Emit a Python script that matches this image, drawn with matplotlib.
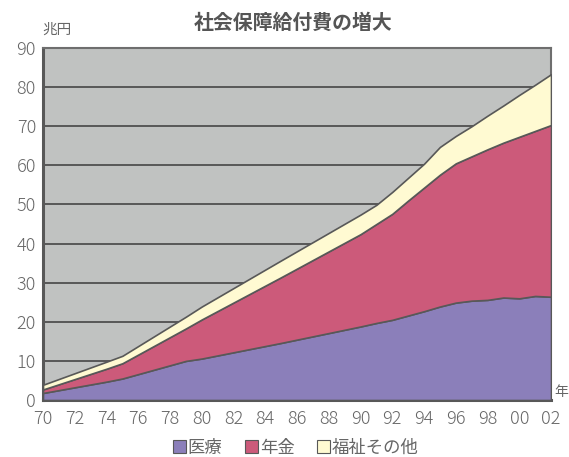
import matplotlib.pyplot as plt
from matplotlib.patches import Rectangle

plt.rcParams['font.family'] = ['Noto Sans CJK JP', 'DejaVu Sans']

years = [1970, 1974, 1975, 1979, 1980, 1985, 1990, 1991, 1992, 1993,
         1994, 1995, 1996, 1997, 1998, 1999, 2000, 2001, 2002]
medical = [1.8, 4.7, 5.5, 10.0, 10.6, 14.6, 18.8, 19.7, 20.5, 21.6,
           22.7, 23.9, 24.9, 25.4, 25.6, 26.2, 26.0, 26.6, 26.4]
pension = [0.9, 3.3, 3.9, 8.3, 10.0, 16.8, 23.6, 25.3, 27.1, 29.4,
           31.6, 33.7, 35.6, 36.9, 38.5, 39.6, 41.3, 42.2, 43.9]
welfare = [1.2, 1.8, 1.9, 3.0, 3.3, 4.3, 5.0, 4.9, 5.6, 5.8,
           6.1, 7.1, 7.0, 7.7, 8.6, 9.5, 10.7, 11.8, 13.0]

series_labels = ["医療", "年金", "福祉その他"]
series_colours = ["#8b7fba", "#cc5a7a", "#fffad2"]
x_ticks = list(range(1970, 2003, 2))
x_tick_labels = [f"{y % 100:02d}" for y in x_ticks]

EDGE = "#585858"
TEXT = "#666666"

fig = plt.figure(figsize=(5.69, 4.57), dpi=100)
ax = fig.add_axes([0.0756, 0.1247, 0.8928, 0.7703])
ax.set_facecolor("#c0c2c1")

ax.stackplot(years, medical, pension, welfare, colors=series_colours,
             edgecolor=EDGE, linewidth=1.2, zorder=3)

ax.set_xlim(1970, 2002)
ax.set_ylim(0, 90)
ax.set_yticks(range(0, 91, 10))
ax.set_xticks(x_ticks)
ax.set_xticklabels(x_tick_labels)
ax.grid(axis="y", color=EDGE, linewidth=1.4, zorder=1)
ax.set_axisbelow(True)

ax.tick_params(axis="x", direction="in", length=4, width=1.2, color=EDGE,
               labelsize=13, labelcolor=TEXT, pad=7)
ax.tick_params(axis="y", length=0, labelsize=13, labelcolor=TEXT, pad=5)
for lab in ax.get_xticklabels() + ax.get_yticklabels():
    lab.set_fontweight("light")
for side in ["left", "bottom"]:
    ax.spines[side].set_color(EDGE)
    ax.spines[side].set_linewidth(2.2)
for side in ["top", "right"]:
    ax.spines[side].set_color("#6e6e6e")
    ax.spines[side].set_linewidth(1.5)

fig.text(0.515, 0.952, "社会保障給付費の増大", ha="center", va="center",
         fontsize=14.3, fontweight="bold", color="#555555")
fig.text(0.1, 0.935, "兆円", ha="center", va="center", fontsize=10.5,
         color=TEXT)
fig.text(0.986, 0.142, "年", ha="center", va="center", fontsize=10,
         color=TEXT)

handles = [Rectangle((0, 0), 1, 1, facecolor=c, edgecolor=EDGE, linewidth=0.8)
           for c in series_colours]
fig.legend(handles, series_labels, loc="center", bbox_to_anchor=(0.52, 0.02),
           ncol=3, frameon=False, fontsize=12.5, labelcolor=TEXT,
           handlelength=0.75, handleheight=0.75, handletextpad=0.1,
           columnspacing=1.3, borderpad=0.1)

fig.savefig("out.png", dpi=100)
